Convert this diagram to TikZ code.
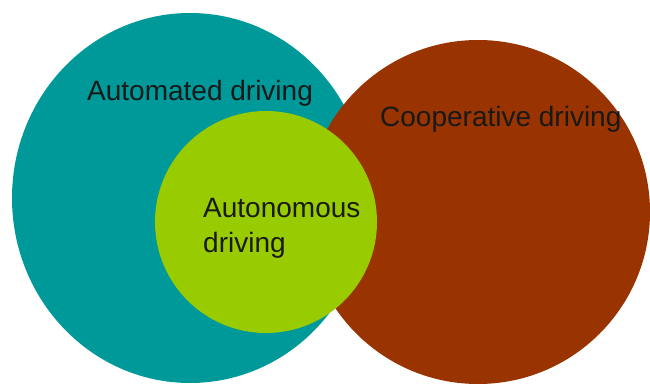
\documentclass[tikz,border=0pt]{standalone}
\usepackage{fontspec}
\setmainfont{Liberation Sans}
\definecolor{tealc}{HTML}{009999}
\definecolor{brownc}{HTML}{993300}
\definecolor{greenc}{HTML}{99CC00}
\begin{document}
\begin{tikzpicture}[x=1pt,y=1pt,
  lbl/.style={anchor=base west,inner sep=0pt,font=\fontsize{28}{35}\selectfont,text=black!90}]
\useasboundingbox (0,0) rectangle (650,383);
\fill[tealc] (190,185) ellipse [x radius=178, y radius=185];
\fill[brownc] (478,171) ellipse [x radius=172, y radius=172];
\fill[greenc] (266,161) ellipse [x radius=111, y radius=111];
\node[lbl] (auto) at (87,282) {Automated driving};
\node[lbl] (coop) at (380,256) {Cooperative driving};
\node[lbl,align=left] (auton) at (203,165) {Autonomous};
\node[lbl] (auton2) at (203,131) {driving};
\end{tikzpicture}
\end{document}
